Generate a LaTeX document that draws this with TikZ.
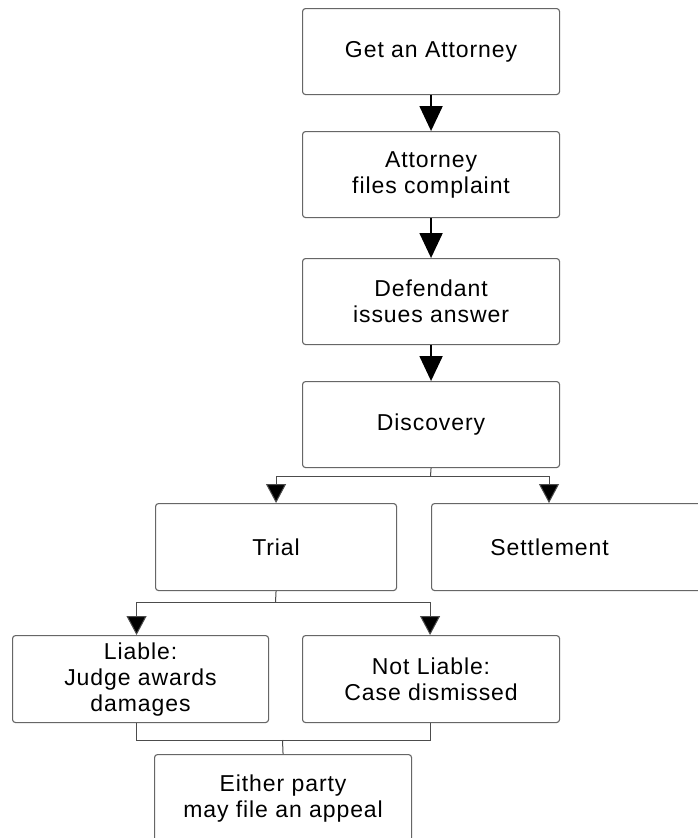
\documentclass[tikz,border=0pt]{standalone}
\usepackage{fontspec}
\setmainfont{Liberation Sans}[LetterSpace=4]
\usetikzlibrary{arrows.meta}
\begin{document}
\begin{tikzpicture}[x=1pt,y=1pt,
  box/.style={draw=black!60, line width=1.1pt, rounded corners=3pt, fill=white,
    minimum width=257pt, minimum height=86pt, inner sep=0pt, align=center,
    anchor=north west, font=\fontsize{23}{26}\selectfont},
  bigarrow/.style={line width=2pt, -{Triangle[width=23pt,length=25pt]}},
  thinline/.style={line width=1pt, draw=black!70},
  smallarrow/.style={thinline, -{Triangle[width=20pt,length=19pt,fill=black]}}]
\useasboundingbox (0,0) rectangle (698,-838);
\fill[white] (0,0) rectangle (698,-838);
\node[box] (b1) at (302,-8) {Get an Attorney};
\node[box] (b2) at (302,-131) {Attorney\\files complaint};
\node[box] (b3) at (302,-258) {Defendant\\issues answer};
\node[box, minimum height=86pt] (b4) at (302,-381) {Discovery};
\node[box, minimum width=241pt, minimum height=87pt] (trial) at (155,-503) {Trial};
\node[box, minimum width=280pt, minimum height=87pt,
  label={[font=\fontsize{23}{26}\selectfont, xshift=-22pt]center:Settlement}] (settle) at (431,-503) {};
\node[box, minimum width=256pt, minimum height=87pt] (liable) at (12,-635) {Liable:\\Judge awards\\damages};
\node[box, minimum width=257pt, minimum height=87pt] (notliable) at (302,-635) {Not Liable:\\Case dismissed};
\node[box, minimum width=257pt, minimum height=87pt] (either) at (154,-754) {Either party\\may file an appeal};
\draw[bigarrow] (b1.south) -- (b2.north);
\draw[bigarrow] (b2.south) -- (b3.north);
\draw[bigarrow] (b3.south) -- (b4.north);
\coordinate (d1) at (430.5,-476);
\coordinate (sTop) at (549,-503);
\draw[thinline] (b4.south) -- (d1);
\draw[smallarrow] (d1) -| (trial.north);
\draw[smallarrow] (d1) -| (sTop);
\coordinate (t1) at (275.5,-602);
\draw[thinline] (trial.south) -- (t1);
\draw[smallarrow] (t1) -| ([xshift=-4pt]liable.north);
\draw[smallarrow] (t1) -| ([xshift=-1pt]notliable.north);
\coordinate (e1) at (282.5,-740);
\draw[thinline] ([xshift=-4pt]liable.south) |- (e1);
\draw[thinline] ([xshift=-1pt]notliable.south) |- (e1);
\draw[thinline] (e1) -- (either.north);
\end{tikzpicture}
\end{document}
